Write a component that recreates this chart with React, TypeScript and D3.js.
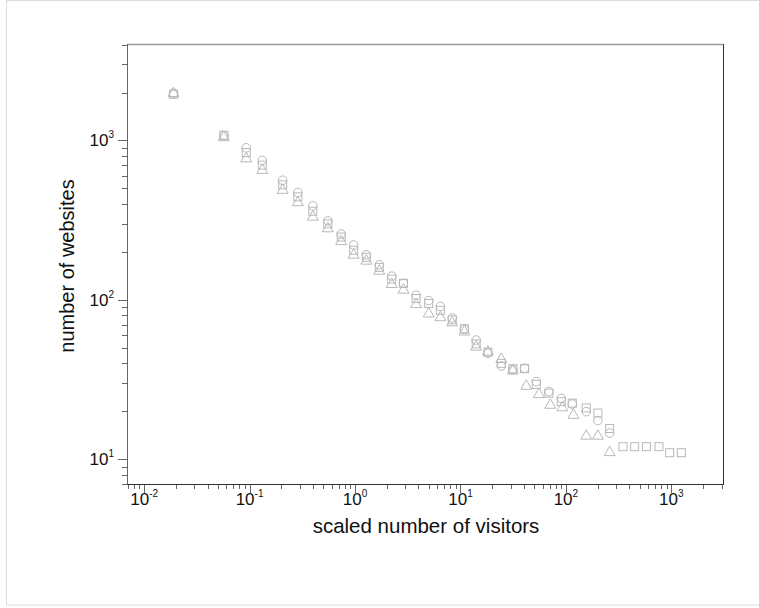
import { useEffect, useRef } from "react";
import * as d3 from "d3";

// [scaled visitors, number of websites]
const CIRCLES: [number, number][] = [
  [0.019, 1980], [0.057, 1070], [0.093, 900], [0.132, 750], [0.206, 563],
  [0.287, 472], [0.398, 389], [0.552, 313], [0.74, 259], [0.97, 221],
  [1.28, 192], [1.7, 166], [2.23, 141], [2.88, 127], [3.8, 107],
  [5.0, 99], [6.45, 91], [8.36, 77], [10.9, 65], [14.1, 56],
  [18.2, 46.3], [24.4, 38.5], [31.4, 36.4], [40.5, 37.3], [52.4, 30.7],
  [69, 26.6], [90.4, 24.1], [115, 22.2], [156, 19.9], [201, 17.5], [260, 14.6],
];

const SQUARES: [number, number][] = [
  [0.019, 1950], [0.057, 1080], [0.093, 840], [0.132, 700], [0.206, 527],
  [0.287, 443], [0.398, 360], [0.552, 300], [0.74, 248], [0.97, 205],
  [1.28, 185], [1.7, 160], [2.23, 135], [2.88, 127], [3.8, 102],
  [5.0, 95], [6.45, 86], [8.36, 75], [10.9, 66], [14.1, 53],
  [18.2, 47], [24.4, 40], [31.4, 37], [40.5, 37], [52.4, 29.5],
  [69, 26], [90.4, 23], [115, 22.5], [156, 21], [201, 19.5], [260, 15.6],
  [348, 12], [449, 12], [580, 12], [763, 12], [964, 11], [1244, 11],
];

const TRIANGLES: [number, number][] = [
  [0.019, 2000], [0.057, 1060], [0.093, 780], [0.132, 660], [0.206, 495],
  [0.287, 414], [0.398, 336], [0.552, 284], [0.74, 236], [0.97, 194],
  [1.28, 178], [1.7, 154], [2.23, 127], [2.88, 117], [3.8, 95],
  [5.0, 83], [6.45, 78.6], [8.36, 73], [10.9, 64], [14.1, 51.4],
  [18.2, 47.9], [24.4, 43], [31.4, 36.4], [42.1, 29.2], [55.5, 25.9],
  [71.1, 22.2], [92.4, 21.4], [118, 19.2], [156, 14.2], [201, 14.2], [260, 11.2],
];

const X_MAJOR = [-2, -1, 0, 1, 2, 3];
const Y_MAJOR = [1, 2, 3];

const W = 759, H = 608;
const FONT = "'Liberation Sans', Arial, sans-serif";
const MARK = "#b8b8b8";

export default function App() {
  const ref = useRef<SVGSVGElement>(null);

  useEffect(() => {
    const svg = d3.select(ref.current);
    svg.selectAll("*").remove();

    const left = 127, right = 723, top = 44, bottom = 484;
    const x = d3.scaleLog().domain([0.00688, 3090]).range([left, right]);
    const y = d3.scaleLog().domain([7.0, 4030]).range([bottom, top]);

    svg.append("rect").attr("width", W).attr("height", H).attr("fill", "#fff");
    // outer light frame
    svg.append("rect")
      .attr("x", 6.5).attr("y", 0.5).attr("width", W + 10).attr("height", 604.5)
      .attr("fill", "none").attr("stroke", "#dcdcdc");

    // minor/major ticks
    const xMinor: number[] = [];
    const yMinor: number[] = [];
    for (let e = -3; e <= 3; e++) for (let k = 2; k <= 9; k++) {
      const v = k * Math.pow(10, e);
      if (v >= x.domain()[0] && v <= x.domain()[1]) xMinor.push(v);
      if (v >= y.domain()[0] && v <= y.domain()[1]) yMinor.push(v);
    }

    const tk = svg.append("g").attr("stroke", "#666").attr("stroke-width", 1);
    xMinor.forEach(v => tk.append("line").attr("x1", Math.round(x(v)) + 0.5).attr("x2", Math.round(x(v)) + 0.5).attr("y1", bottom).attr("y2", bottom + 5));
    X_MAJOR.forEach(e => tk.append("line").attr("x1", Math.round(x(Math.pow(10, e))) + 0.5).attr("x2", Math.round(x(Math.pow(10, e))) + 0.5).attr("y1", bottom).attr("y2", bottom + 9));
    yMinor.forEach(v => tk.append("line").attr("y1", Math.round(y(v)) + 0.5).attr("y2", Math.round(y(v)) + 0.5).attr("x1", left).attr("x2", left - 5));
    Y_MAJOR.forEach(e => tk.append("line").attr("y1", Math.round(y(Math.pow(10, e))) + 0.5).attr("y2", Math.round(y(Math.pow(10, e))) + 0.5).attr("x1", left).attr("x2", left - 9));

    // frame
    svg.append("line").attr("x1", left).attr("x2", right).attr("y1", top + 0.5).attr("y2", top + 0.5).attr("stroke", "#9a9a9a").attr("stroke-width", 1.5);
    svg.append("line").attr("x1", left + 0.5).attr("x2", left + 0.5).attr("y1", top).attr("y2", bottom).attr("stroke", "#666");
    svg.append("line").attr("x1", left).attr("x2", right).attr("y1", bottom + 0.5).attr("y2", bottom + 0.5).attr("stroke", "#333");
    svg.append("line").attr("x1", right + 0.5).attr("x2", right + 0.5).attr("y1", top).attr("y2", bottom + 1).attr("stroke", "#333");

    // tick labels
    X_MAJOR.forEach(e => {
      const t = svg.append("text").attr("x", x(Math.pow(10, e))).attr("y", 505)
        .attr("text-anchor", "middle").attr("font-family", FONT).attr("font-size", 17).attr("fill", "#111");
      t.append("tspan").text("10");
      t.append("tspan").attr("font-size", 10).attr("dy", -8).text(String(e));
    });
    Y_MAJOR.forEach(e => {
      const t = svg.append("text").attr("x", 114).attr("y", y(Math.pow(10, e)) + 6)
        .attr("text-anchor", "end").attr("font-family", FONT).attr("font-size", 17).attr("fill", "#111");
      t.append("tspan").text("10");
      t.append("tspan").attr("font-size", 10).attr("dy", -8).text(String(e));
    });

    // axis titles
    svg.append("text").attr("x", (left + right) / 2 + 1).attr("y", 533)
      .attr("text-anchor", "middle").attr("font-family", FONT).attr("font-size", 20.5).attr("fill", "#111")
      .text("scaled number of visitors");
    svg.append("text").attr("transform", `translate(74,${(top + bottom) / 2 + 2}) rotate(-90)`)
      .attr("text-anchor", "middle").attr("font-family", FONT).attr("font-size", 20).attr("fill", "#111")
      .text("number of websites");

    // markers
    const g = svg.append("g").attr("fill", "none").attr("stroke", MARK).attr("stroke-width", 1);
    g.selectAll(".sq").data(SQUARES).join("rect").attr("class", "sq")
      .attr("x", d => x(d[0]) - 4).attr("y", d => y(d[1]) - 4).attr("width", 8).attr("height", 8);
    g.selectAll(".ci").data(CIRCLES).join("circle").attr("class", "ci")
      .attr("cx", d => x(d[0])).attr("cy", d => y(d[1])).attr("r", 4.3);
    const tri = d3.symbol().type(d3.symbolTriangle).size(52);
    g.selectAll(".tr").data(TRIANGLES).join("path").attr("class", "tr")
      .attr("transform", d => `translate(${x(d[0])},${y(d[1]) + 1})`).attr("d", tri() as string);
  }, []);

  return (
    <svg ref={ref} width={W} height={H} style={{ position: "absolute", left: 0, top: 0 }} />
  );
}
